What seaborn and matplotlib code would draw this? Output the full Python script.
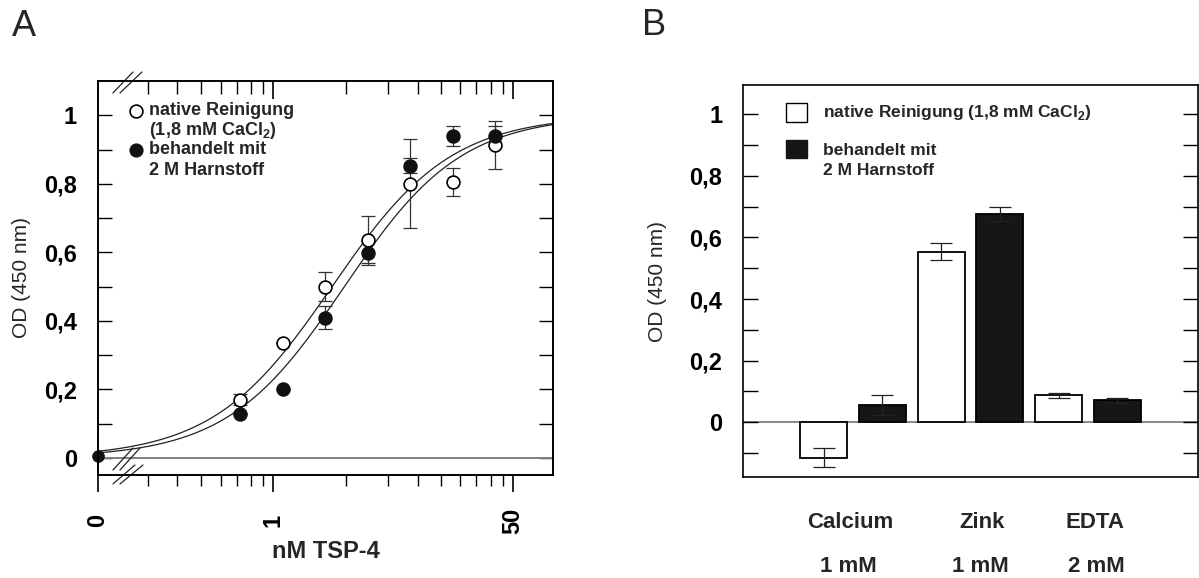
import numpy as np
import pandas as pd
import seaborn as sns
import matplotlib.pyplot as plt
from matplotlib.ticker import FixedLocator, NullFormatter
from matplotlib.patches import Rectangle
import matplotlib.transforms as mtransforms

# --- Teil A: Bindung von TSP-4 ---
konz = [0.586, 1.17, 2.34, 4.69, 9.38, 18.75, 37.5]  # nM TSP-4
od_nativ = [0.170, 0.334, 0.500, 0.637, 0.800, 0.805, 0.914]
err_nativ = [0.015, 0.0, 0.043, 0.068, 0.130, 0.040, 0.070]
od_harnstoff = [0.127, 0.202, 0.409, 0.598, 0.852, 0.940, 0.940]
err_harnstoff = [0.0, 0.0, 0.033, 0.036, 0.022, 0.030, 0.030]
od_null = 0.005  # Wert bei 0 nM (beide Ansaetze)

# Hill-Anpassung: (Maximum, EC50 in nM, Hill-Koeffizient)
fit_nativ = (1.0, 2.62, 1.03)
fit_harnstoff = (1.0, 3.2, 1.05)

# --- Teil B: Einfluss zweiwertiger Ionen ---
metalle = ['Calcium', 'Zink', 'EDTA']
metall_konz = ['1 mM', '1 mM', '2 mM']
bar_nativ = [-0.115, 0.554, 0.087]
bar_nativ_err = [0.032, 0.028, 0.009]
bar_harnstoff = [0.056, 0.676, 0.071]
bar_harnstoff_err = [0.033, 0.024, 0.008]

sns.set_theme(style='ticks')
plt.rcParams['font.family'] = ['Liberation Sans', 'DejaVu Sans']
plt.rcParams['axes.edgecolor'] = 'black'
plt.rcParams['axes.linewidth'] = 1.2
plt.rcParams['xtick.color'] = 'black'
plt.rcParams['ytick.color'] = 'black'

fig = plt.figure(figsize=(11.99, 5.78), dpi=100)
axA = fig.add_axes([0.0817, 0.1782, 0.3795, 0.6817])
axB = fig.add_axes([0.6197, 0.1747, 0.3795, 0.6782])

# ---------------- Panel A ----------------
x0, x1 = 0.0577, 95.9
axA.set_xscale('log')
axA.set_xlim(x0, x1)
axA.set_ylim(-0.05, 1.10)

axA.axhline(0, color='#808080', lw=1.4, zorder=1)

xs = np.logspace(np.log10(x0), np.log10(x1), 400)
for top, ec50, n in (fit_nativ, fit_harnstoff):
    ys = top * xs ** n / (ec50 ** n + xs ** n)
    sns.lineplot(x=xs, y=ys, color='#222222', lw=0.9, ax=axA, zorder=2)

axA.errorbar(konz, od_nativ, yerr=err_nativ, fmt='none', ecolor='#333333',
             elinewidth=0.9, capsize=4.7, capthick=0.9, zorder=2)
axA.errorbar(konz, od_harnstoff, yerr=err_harnstoff, fmt='none', ecolor='#333333',
             elinewidth=0.9, capsize=4.7, capthick=0.9, zorder=2)

sns.scatterplot(x=konz, y=od_nativ, marker='o', s=85, facecolor='white',
                edgecolor='black', linewidth=1.2, zorder=3, ax=axA)
sns.scatterplot(x=konz, y=od_harnstoff, marker='o', s=85, facecolor='#111111',
                edgecolor='#111111', linewidth=1.2, zorder=3, ax=axA)
sns.scatterplot(x=[x0], y=[od_null], marker='o', s=70, facecolor='#111111',
                edgecolor='#111111', zorder=4, clip_on=False, ax=axA)

# y-Achse
axA.yaxis.set_major_locator(FixedLocator([0, 0.2, 0.4, 0.6, 0.8, 1.0]))
axA.yaxis.set_minor_locator(FixedLocator([0.1, 0.3, 0.5, 0.7, 0.9]))
axA.set_yticklabels(['0', '0,2', '0,4', '0,6', '0,8', '1'])
axA.tick_params(axis='y', which='both', direction='in', length=10, width=1,
                left=True, right=True, labelsize=17, pad=15)

# x-Achse (log, mit Achsenbruch bei 0)
minor_x = [0.13, 0.21, 0.31, 0.43, 0.56, 0.70, 0.85,
           3.3, 6.5, 10.6, 15.5, 21.2, 27.4, 34.9, 42.3]
axA.xaxis.set_major_locator(FixedLocator([x0, 1, 50]))
axA.xaxis.set_minor_locator(FixedLocator(minor_x))
axA.xaxis.set_minor_formatter(NullFormatter())
axA.set_xticklabels(['0', '1', '50'])
axA.tick_params(axis='x', which='major', direction='out', length=12, width=1.2,
                top=False, bottom=True, labelsize=17, pad=21)
axA.tick_params(axis='x', which='minor', direction='out', length=8, width=1,
                top=False, bottom=True)
for lbl in axA.get_xticklabels():
    lbl.set_rotation(90)
    lbl.set_va('center')
    lbl.set_fontweight('bold')
for lbl in axA.get_yticklabels():
    lbl.set_fontweight('bold')

axT = axA.twiny()
axT.set_xscale('log')
axT.set_xlim(x0, x1)
axT.xaxis.set_major_locator(FixedLocator([1, 50]))
axT.xaxis.set_minor_locator(FixedLocator(minor_x))
axT.xaxis.set_minor_formatter(NullFormatter())
axT.tick_params(axis='x', which='major', direction='in', length=13, width=1.2,
                top=True, bottom=False, labeltop=False)
axT.tick_params(axis='x', which='minor', direction='in', length=9, width=1,
                top=True, bottom=False)

axA.set_xlabel('nM TSP-4', fontsize=17, fontweight='bold', va='center')
axA.xaxis.set_label_coords(0.5, -0.193)
axA.set_ylabel('OD (450 nm)', fontsize=15, va='center')
axA.yaxis.set_label_coords(-0.167, 0.5)


def px_ax(px, py):
    return (px - 98) / 455, (475 - py) / 394


for (xa, ya), (xb, yb) in [((113, 93), (133, 72)), ((120, 93), (142, 72)),
                           ((113, 470), (133, 448)), ((120, 470), (140, 448)),
                           ((113, 484), (135, 465)), ((120, 484), (143, 465))]:
    pa, pb = px_ax(xa, ya), px_ax(xb, yb)
    axA.plot([pa[0], pb[0]], [pa[1], pb[1]], color='#222222', lw=0.9,
             transform=axA.transAxes, clip_on=False, zorder=5)

# Legende A
axA.scatter([0.0835], [0.924], s=85, facecolor='white', edgecolor='black',
            linewidth=1.2, transform=axA.transAxes, zorder=5)
axA.scatter([0.0835], [0.825], s=85, facecolor='#111111', edgecolor='#111111',
            transform=axA.transAxes, zorder=5)
for txt, yy in [('native Reinigung', 0.924), ('(1,8 mM CaCl$_\\mathregular{2}$)', 0.875),
                ('behandelt mit', 0.825), ('2 M Harnstoff', 0.774)]:
    axA.text(0.112, yy, txt, transform=axA.transAxes, fontsize=13,
             fontweight='bold', ha='left', va='center')

# ---------------- Panel B ----------------
df = pd.DataFrame({
    'Metall': metalle * 2,
    'Behandlung': ['nativ'] * 3 + ['Harnstoff'] * 3,
    'OD': bar_nativ + bar_harnstoff,
})
sns.barplot(data=df, x='Metall', y='OD', hue='Behandlung',
            palette={'nativ': 'white', 'Harnstoff': '#161616'}, saturation=1,
            edgecolor='black', linewidth=1.3, width=1.0, gap=0.2,
            errorbar=None, legend=False, ax=axB)

for cont, werte, fehler in [(axB.containers[0], bar_nativ, bar_nativ_err),
                            (axB.containers[1], bar_harnstoff, bar_harnstoff_err)]:
    xc = [b.get_x() + b.get_width() / 2 for b in cont]
    axB.errorbar(xc, werte, yerr=fehler, fmt='none', ecolor='#222222',
                 elinewidth=0.9, capsize=8, capthick=0.9, zorder=3)

axB.axhline(0, color='#808080', lw=1.3, zorder=0.5)
axB.set_xlim(-0.936, 2.936)
axB.set_ylim(-0.178, 1.095)
axB.set_xticks([])
axB.set_xlabel('')
axB.yaxis.set_major_locator(FixedLocator([0, 0.2, 0.4, 0.6, 0.8, 1.0]))
axB.yaxis.set_minor_locator(FixedLocator([-0.1, 0.1, 0.3, 0.5, 0.7, 0.9]))
axB.set_yticklabels(['0', '0,2', '0,4', '0,6', '0,8', '1'])
axB.tick_params(axis='y', which='both', direction='in', length=10.5, width=1,
                left=True, right=True, labelsize=17, pad=15)
for lbl in axB.get_yticklabels():
    lbl.set_fontweight('bold')
axB.set_ylabel('OD (450 nm)', fontsize=15, va='center')
axB.yaxis.set_label_coords(-0.189, 0.5)

trans = mtransforms.blended_transform_factory(axB.transData, axB.transAxes)
name_off = [-0.02, 0.1, 0.06]
konz_off = [-0.04, 0.08, 0.07]
for i, (name, kz) in enumerate(zip(metalle, metall_konz)):
    axB.text(i + name_off[i], -0.115, name, transform=trans, fontsize=16,
             fontweight='bold', ha='center', va='center')
    axB.text(i + konz_off[i], -0.227, kz, transform=trans, fontsize=16,
             fontweight='bold', ha='center', va='center')

# Legende B
axB.add_patch(Rectangle((0.0945, 0.906), 0.0462, 0.048, facecolor='white',
                        edgecolor='black', lw=1, transform=axB.transAxes))
axB.add_patch(Rectangle((0.0945, 0.814), 0.0462, 0.046, facecolor='#161616',
                        edgecolor='#161616', lw=1, transform=axB.transAxes))
for txt, yy in [('native Reinigung (1,8 mM CaCl$_\\mathregular{2}$)', 0.929),
                ('behandelt mit', 0.834), ('2 M Harnstoff', 0.783)]:
    axB.text(0.176, yy, txt, transform=axB.transAxes, fontsize=12.5,
             fontweight='bold', ha='left', va='center')

fig.text(0.010, 0.9377, 'A', fontsize=26, va='baseline')
fig.text(0.5355, 0.9394, 'B', fontsize=26, va='baseline')

fig.savefig('out.png', dpi=100)
